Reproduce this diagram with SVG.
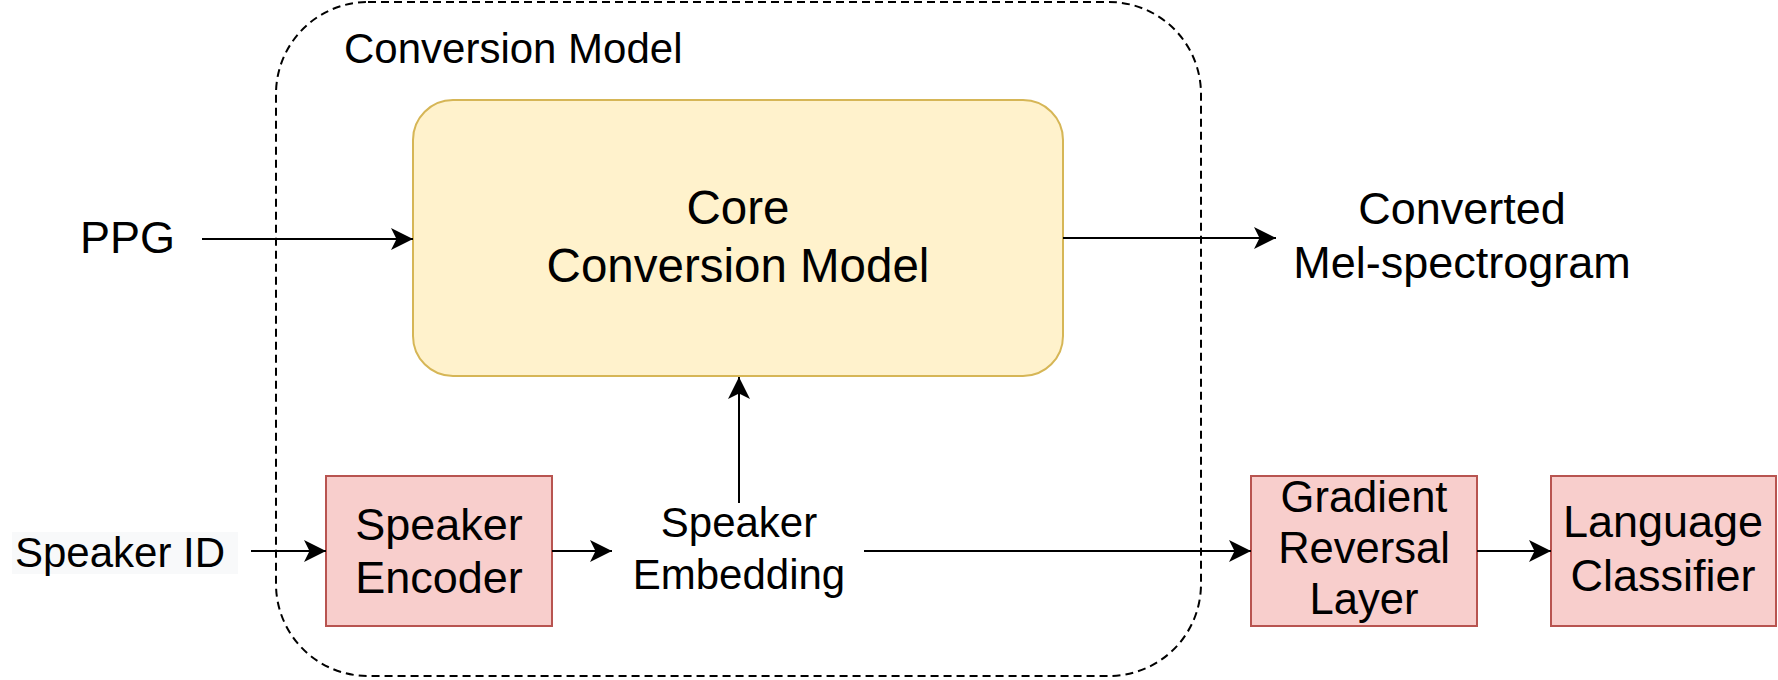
<svg xmlns="http://www.w3.org/2000/svg" width="1778" height="680" viewBox="0 0 1778 680">
<defs>
<style>
text{font-family:"Liberation Sans",Arial,sans-serif;fill:#000;}
.t{font-size:42px;}
.tc{font-size:42px;text-anchor:middle;}
.big{font-size:45px;}
.core{font-size:47.5px;text-anchor:middle;}
.red{fill:#f8cecc;stroke:#b85450;stroke-width:2;}
.edge{fill:none;stroke:#000;stroke-width:2;}
</style>
<marker id="arr" markerUnits="userSpaceOnUse" markerWidth="22" markerHeight="22" refX="22" refY="11" orient="auto" overflow="visible">
<path d="M0,0 L22,11 L0,22 L5.5,11 Z" fill="#000"/>
</marker>
</defs>
<rect width="1778" height="680" fill="#fff"/>
<g id="container">
<rect x="276" y="2" width="925" height="674" rx="92" ry="92" fill="none" stroke="#000" stroke-width="2" stroke-dasharray="8 5"/>
<text class="t" x="344" y="63">Conversion Model</text>
</g>
<g id="core">
<rect x="413" y="100" width="650" height="276" rx="40" ry="40" fill="#fff2cc" stroke="#d6b656" stroke-width="2"/>
<text class="core" x="738" y="224">Core</text>
<text class="core" x="738" y="282">Conversion Model</text>
</g>
<g id="ppg"><text class="t big" x="80" y="253">PPG</text></g>
<g id="mel">
<text class="tc big" x="1462" y="224">Converted</text>
<text class="tc big" x="1462" y="278">Mel-spectrogram</text>
</g>
<g id="speaker-id">
<rect x="12" y="532" width="226" height="42" fill="#f8f9fa"/>
<text class="t" x="15" y="567">Speaker ID</text>
</g>
<g id="speaker-encoder">
<rect class="red" x="326" y="476" width="226" height="150"/>
<text class="tc big" x="439" y="540">Speaker</text>
<text class="tc big" x="439" y="593">Encoder</text>
</g>
<g id="speaker-embedding">
<text class="tc" x="739" y="537">Speaker</text>
<text class="tc" x="739" y="589">Embedding</text>
</g>
<g id="grl">
<rect class="red" x="1251" y="476" width="226" height="150"/>
<text class="tc" x="1364" y="512" style="font-size:43.5px">Gradient</text>
<text class="tc" x="1364" y="563" style="font-size:43.5px">Reversal</text>
<text class="tc" x="1364" y="614" style="font-size:43.5px">Layer</text>
</g>
<g id="language-classifier">
<rect class="red" x="1551" y="476" width="225" height="150"/>
<text class="tc big" x="1663" y="537">Language</text>
<text class="tc big" x="1663" y="591">Classifier</text>
</g>
<g id="connectors">
<line class="edge" x1="202" y1="239" x2="413" y2="239" marker-end="url(#arr)"/>
<line class="edge" x1="1063" y1="238" x2="1276" y2="238" marker-end="url(#arr)"/>
<line class="edge" x1="739" y1="503" x2="739" y2="377" marker-end="url(#arr)"/>
<line class="edge" x1="251" y1="551" x2="326" y2="551" marker-end="url(#arr)"/>
<line class="edge" x1="552" y1="551" x2="612" y2="551" marker-end="url(#arr)"/>
<line class="edge" x1="864" y1="551" x2="1251" y2="551" marker-end="url(#arr)"/>
<line class="edge" x1="1477" y1="551" x2="1551" y2="551" marker-end="url(#arr)"/>
</g>
</svg>
